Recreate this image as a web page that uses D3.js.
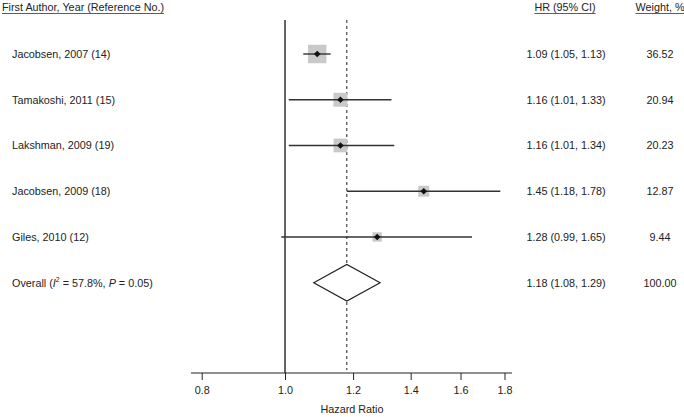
<!DOCTYPE html>
<html><head><meta charset="utf-8">
<script src="https://cdn.jsdelivr.net/npm/d3@7"></script>
<style>body{margin:0;background:#fff}svg{display:block}text{font-family:"Liberation Sans",Arial,sans-serif;fill:#222}</style>
</head><body><div id="c"></div>
<script>
const studies = ["Jacobsen, 2007 (14)","Tamakoshi, 2011 (15)","Lakshman, 2009 (19)","Jacobsen, 2009 (18)","Giles, 2010 (12)"];
const hr = [1.09,1.16,1.16,1.45,1.28];
const lower = [1.05,1.01,1.01,1.18,0.99];
const upper = [1.13,1.33,1.34,1.78,1.65];
const weights = [36.52,20.94,20.23,12.87,9.44];
const overall = {hr:1.18, lo:1.08, hi:1.29, weight:100.00};
const ticks = [0.8,1.0,1.2,1.4,1.6,1.8];

const W=684,H=417;
const svg=d3.select("#c").append("svg").attr("width",W).attr("height",H);
const x=d3.scaleLog().domain([0.8,1.8]).range([201.7,504.5]);
const y=d3.scaleLinear().domain([0,5]).range([54,282.7]);
const fmt=d3.format(".2f");
const fs=10.8;

// headers
const headers=[{t:"First Author, Year (Reference No.)",x:2,a:"start"},{t:"HR (95% CI)",x:565,a:"middle"},{t:"Weight, %",x:660,a:"middle"}];
headers.forEach(h=>{
  const t=svg.append("text").attr("x",h.x).attr("y",11).attr("text-anchor",h.a).attr("font-size",fs).text(h.t);
  const bb=t.node().getBBox();
  svg.append("line").attr("x1",bb.x).attr("x2",bb.x+bb.width).attr("y1",13.5).attr("y2",13.5).attr("stroke","#333").attr("stroke-width",0.8);
});

// reference lines
svg.append("line").attr("x1",x(1)).attr("x2",x(1)).attr("y1",20).attr("y2",373).attr("stroke","#111").attr("stroke-width",1.3);
svg.append("line").attr("x1",x(overall.hr)).attr("x2",x(overall.hr)).attr("y1",20).attr("y2",370).attr("stroke","#222").attr("stroke-width",1).attr("stroke-dasharray","3,3");

// studies
studies.forEach((s,i)=>{
  const yy=y(i);
  const side=3.05*Math.sqrt(weights[i]);
  svg.append("rect").attr("x",x(hr[i])-side/2).attr("y",yy-side/2).attr("width",side).attr("height",side).attr("fill","#c9c9c9");
  svg.append("line").attr("x1",x(lower[i])).attr("x2",x(upper[i])).attr("y1",yy).attr("y2",yy).attr("stroke","#333").attr("stroke-width",1.4);
  svg.append("path").attr("d",d3.symbol(d3.symbolDiamond2,28)()).attr("transform",`translate(${x(hr[i])},${yy})`).attr("fill","#111");
  svg.append("text").attr("x",12).attr("y",yy+4).attr("font-size",fs).text(s);
  svg.append("text").attr("x",566).attr("y",yy+4).attr("text-anchor","middle").attr("font-size",fs).text(`${fmt(hr[i])} (${fmt(lower[i])}, ${fmt(upper[i])})`);
  svg.append("text").attr("x",660).attr("y",yy+4).attr("text-anchor","middle").attr("font-size",fs).text(fmt(weights[i]));
});

// overall
const yo=y(5);
svg.append("path").attr("d",`M${x(overall.lo)},${yo}L${x(overall.hr)},${yo-18.3}L${x(overall.hi)},${yo}L${x(overall.hr)},${yo+18.3}Z`).attr("fill","#fff").attr("stroke","#222").attr("stroke-width",1.2);
const ot=svg.append("text").attr("x",12).attr("y",yo+4).attr("font-size",fs);
ot.append("tspan").text("Overall (");
ot.append("tspan").attr("font-style","italic").text("I");
ot.append("tspan").attr("font-size",7).attr("dy",-5).text("2");
ot.append("tspan").attr("dy",5).text(" = 57.8%, ");
ot.append("tspan").attr("font-style","italic").text("P");
ot.append("tspan").text(" = 0.05)");
svg.append("text").attr("x",566).attr("y",yo+4).attr("text-anchor","middle").attr("font-size",fs).text(`${fmt(overall.hr)} (${fmt(overall.lo)}, ${fmt(overall.hi)})`);
svg.append("text").attr("x",660).attr("y",yo+4).attr("text-anchor","middle").attr("font-size",fs).text(fmt(overall.weight));

// axis
const ax=svg.append("g").attr("transform","translate(0,373)")
  .call(d3.axisBottom(x).tickValues(ticks).tickFormat(d3.format(".1f")).tickSizeOuter(0).tickSize(7).tickPadding(6));
ax.select(".domain").attr("d",`M191,0H512`).attr("stroke","#222");
ax.selectAll(".tick line").attr("stroke","#222");
ax.selectAll("text").attr("font-size",fs).attr("fill","#222").attr("font-family","Liberation Sans, Arial, sans-serif");
svg.append("text").attr("x",352).attr("y",413).attr("text-anchor","middle").attr("font-size",fs).text("Hazard Ratio");
</script></body></html>
